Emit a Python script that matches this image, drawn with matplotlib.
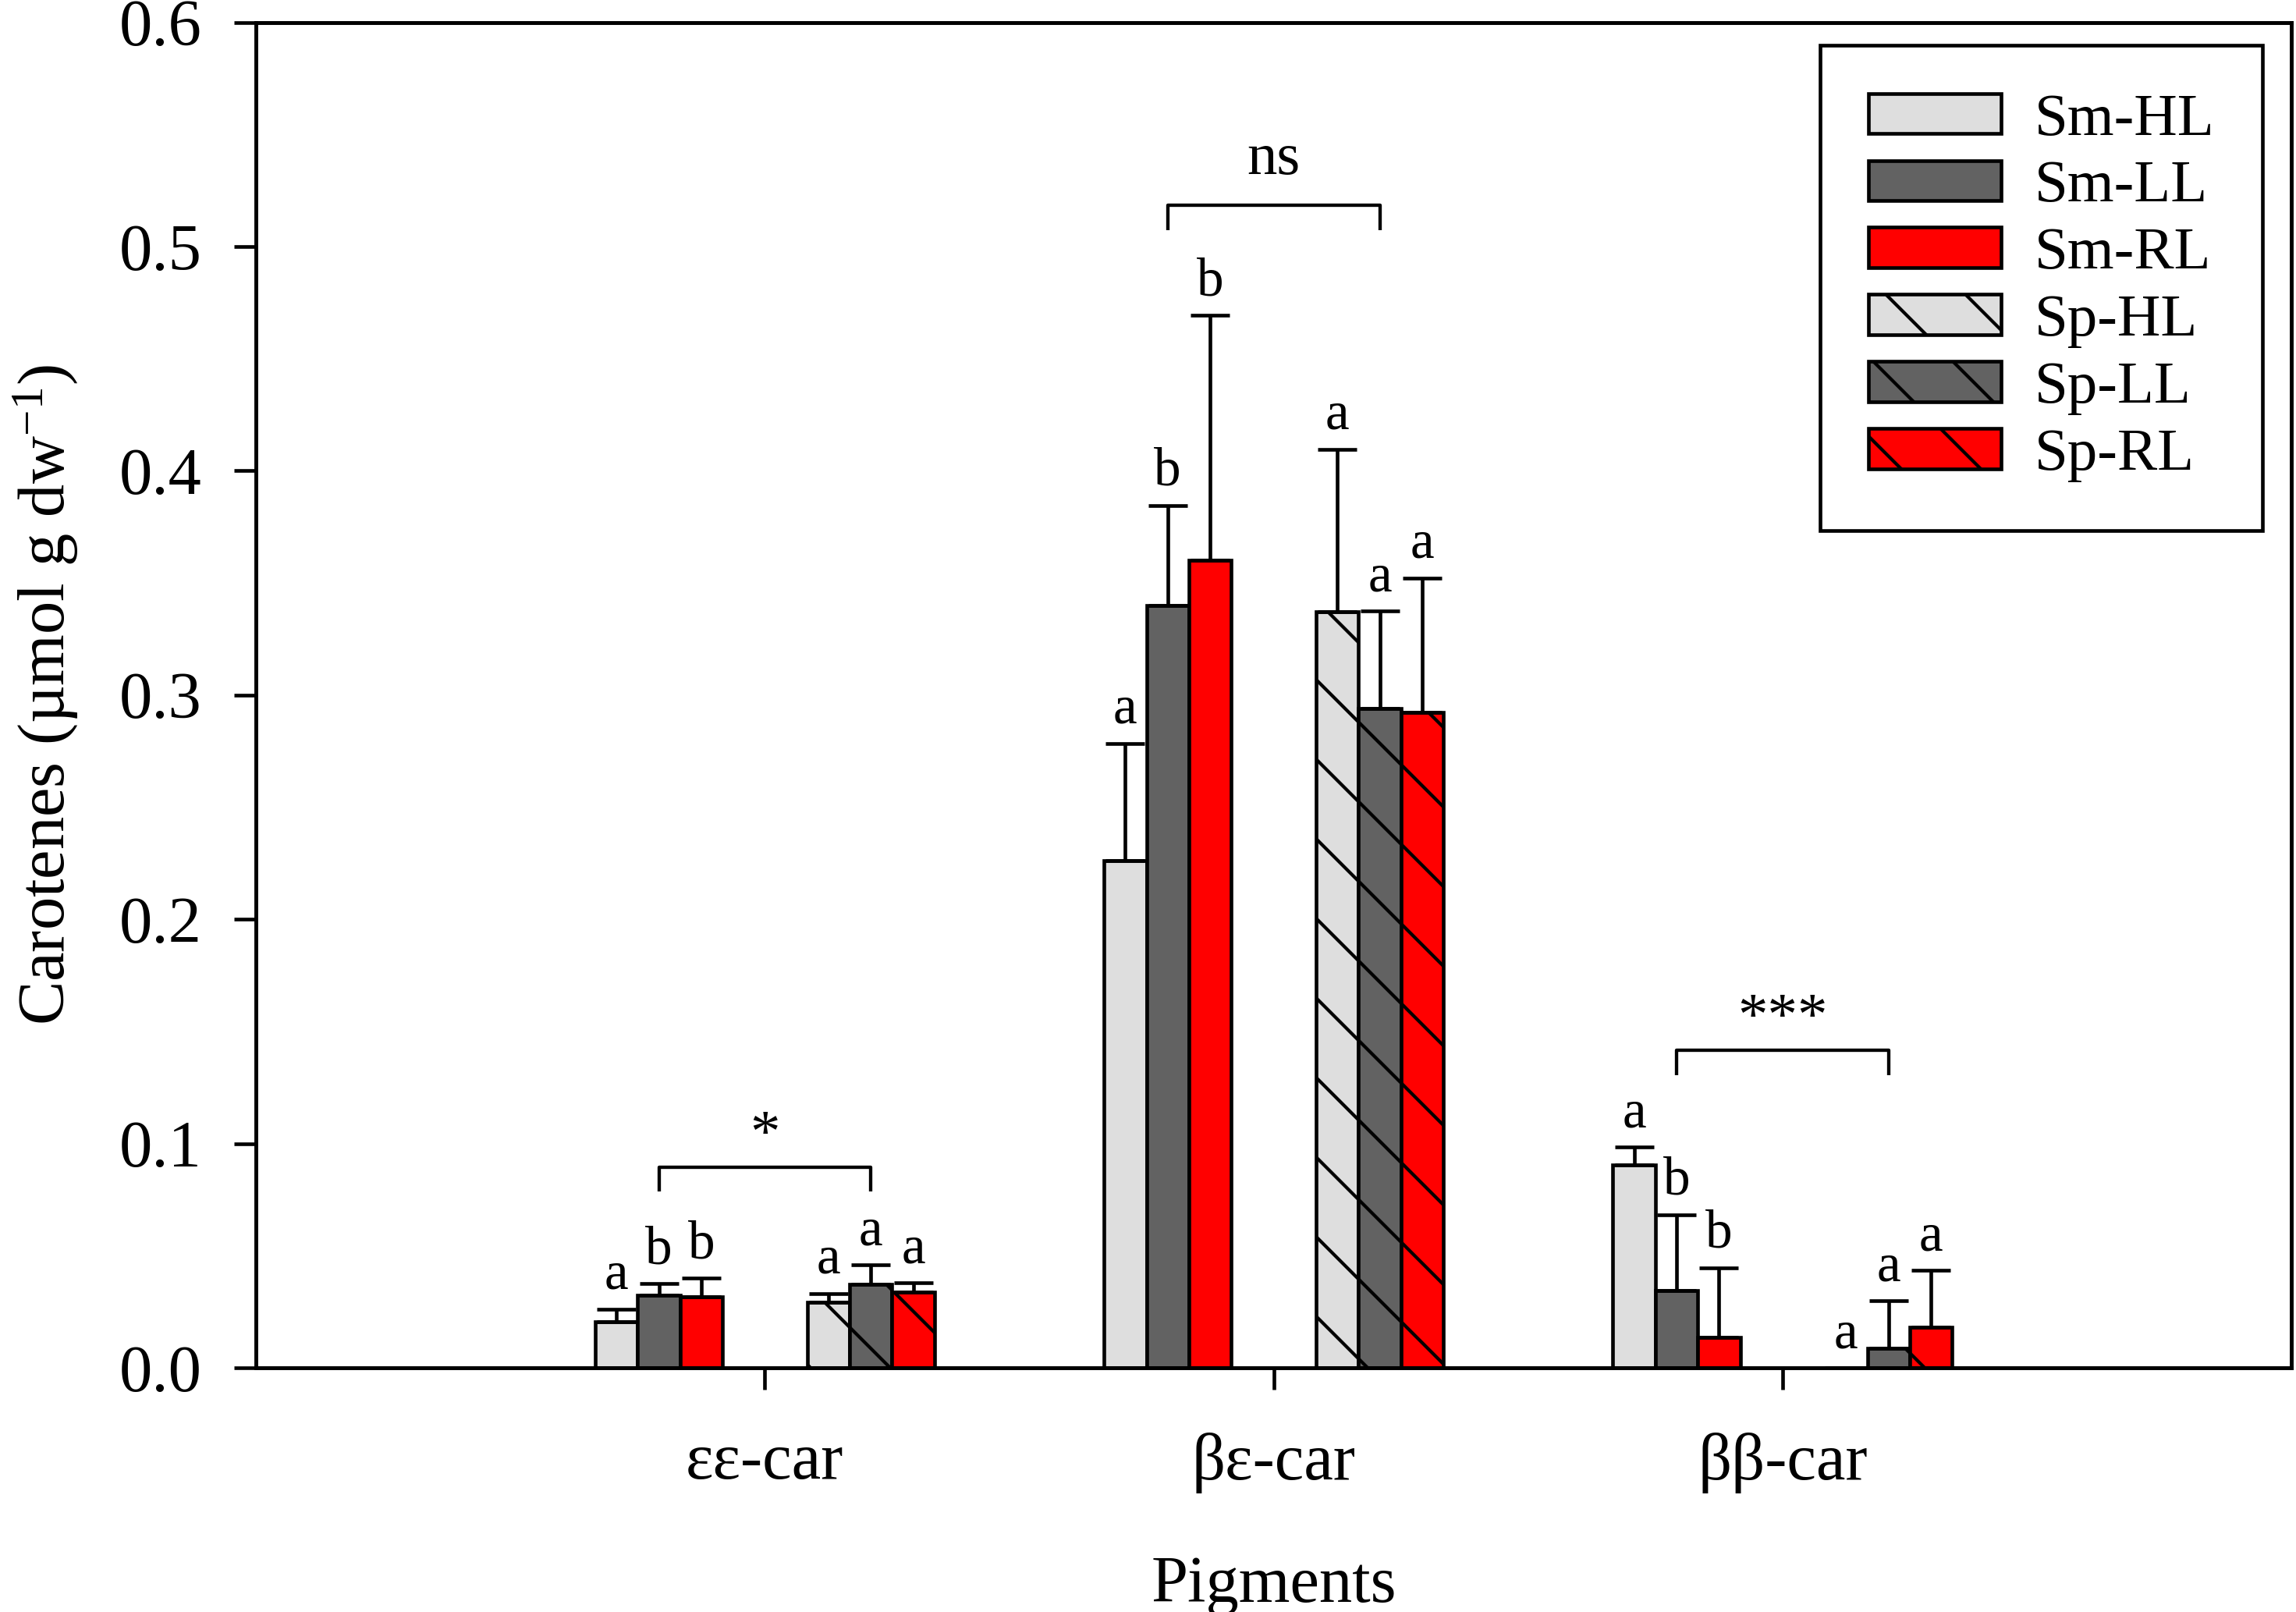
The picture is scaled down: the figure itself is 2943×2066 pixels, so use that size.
"""
Carotene content per pigment: Sm vs Sp under HL / LL / RL light.
Grouped bars with upper SD error bars, letters and significance brackets.
"""

import numpy as np
import matplotlib
matplotlib.use('Agg')
from matplotlib import pyplot as plt

plt.rcParams['font.family'] = ['Liberation Serif', 'DejaVu Serif']
plt.rcParams['mathtext.default'] = 'regular'
plt.rcParams['hatch.linewidth'] = 1.0

pigments = ['εε-car', 'βε-car', 'ββ-car']
series = ['Sm-HL', 'Sm-LL', 'Sm-RL', 'Sp-HL', 'Sp-LL', 'Sp-RL']

# means, in pigment order (εε, βε, ββ)
sm_hl = [0.0205, 0.2263, 0.0906]
sm_ll = [0.0325, 0.3398, 0.0346]
sm_rl = [0.0318, 0.3600, 0.0136]
sp_hl = [0.0294, 0.3373, 0.0]
sp_ll = [0.0373, 0.2940, 0.0088]
sp_rl = [0.0336, 0.2922, 0.0180]

# upper SD
sm_hl_sd = [0.0057, 0.0522, 0.0079]
sm_ll_sd = [0.0050, 0.0448, 0.0337]
sm_rl_sd = [0.0082, 0.1094, 0.0310]
sp_hl_sd = [0.0038, 0.0724, 0.0]
sp_ll_sd = [0.0085, 0.0435, 0.0210]
sp_rl_sd = [0.0042, 0.0601, 0.0254]

# letters over the bars
sm_hl_let = ['a', 'a', 'a']
sm_ll_let = ['b', 'b', 'b']
sm_rl_let = ['b', 'b', 'b']
sp_hl_let = ['a', 'a', 'a']
sp_ll_let = ['a', 'a', 'a']
sp_rl_let = ['a', 'a', 'a']

# Sm vs Sp test per pigment
sig_marks = ['*', 'ns', '***']
bracket_h = [0.0895, 0.5184, 0.1416]

means = [sm_hl, sm_ll, sm_rl, sp_hl, sp_ll, sp_rl]
sds = [sm_hl_sd, sm_ll_sd, sm_rl_sd, sp_hl_sd, sp_ll_sd, sp_rl_sd]
letters = [sm_hl_let, sm_ll_let, sm_rl_let, sp_hl_let, sp_ll_let, sp_rl_let]

colors = ['#dedede', '#626262', '#ff0000'] * 2
hatches = [None, None, None, '\\', '\\', '\\']
slots = [-3.5, -2.5, -1.5, 1.5, 2.5, 3.5]

# dpi chosen so the single '\' hatch gets the same spacing as the original
DPI = 306
fig = plt.figure(figsize=(2943 / DPI, 2066 / DPI), dpi=DPI)
ax = fig.add_axes([0.1115, 0.1515, 0.8865, 0.8346])

x = np.arange(1, len(pigments) + 1)
w = 1 / 12

for i, name in enumerate(series):
    xs = x + slots[i] * w
    m = np.array(means[i])
    sd = np.array(sds[i])
    ax.bar(xs, m, width=w, color=colors[i], edgecolor='black',
           linewidth=1.09, hatch=hatches[i], label=name, zorder=2)
    keep = sd > 0
    ax.errorbar(xs[keep], m[keep], yerr=[np.zeros(keep.sum()), sd[keep]],
                fmt='none', ecolor='black', elinewidth=1.09,
                capsize=5.95, capthick=1.09, zorder=3)
    for xi, top, lab in zip(xs, m + sd, letters[i]):
        ax.text(xi, top + 0.009, lab, ha='center', va='baseline', fontsize=16.25)

# brackets between Sm-LL and Sp-LL
mark_off = {'*': 0.0072, 'ns': 0.014, '***': 0.0072}
for xc, h, mark in zip(x, bracket_h, sig_marks):
    x0, x1 = xc - 2.5 * w, xc + 2.5 * w
    ax.plot([x0, x0, x1, x1], [h - 0.011, h, h, h - 0.011],
            color='black', lw=1.02, solid_capstyle='butt')
    ax.text(xc, h + mark_off[mark], mark, ha='center', va='baseline',
            fontsize=18.1)

ax.set_xlim(0, 4)
ax.set_ylim(0, 0.6)
ax.set_yticks(np.arange(0, 0.61, 0.1))
ax.set_yticklabels([f'{v:.1f}' for v in np.arange(0, 0.61, 0.1)])
ax.set_xticks(x, pigments)
ax.tick_params(axis='both', direction='out', length=6.5, width=1.09,
               labelsize=19.9, top=False, right=False)
ax.tick_params(axis='x', pad=13.06)
ax.tick_params(axis='y', pad=9.87)
for sp in ax.spines.values():
    sp.set_linewidth(1.16)

ax.set_ylabel('Carotenes (µmol g dw$^{-1}$)', fontsize=19.9, labelpad=12.0)
ax.set_xlabel('Pigments', fontsize=19.9, labelpad=18.9)

leg = ax.legend(loc='upper right', bbox_to_anchor=(2900 / 2943, 1 - 58 / 2066),
                bbox_transform=fig.transFigure, borderaxespad=0,
                fontsize=18.1, fancybox=False, edgecolor='black',
                framealpha=1, handlelength=2.22, handleheight=0.66,
                handletextpad=0.55, labelspacing=0.22, borderpad=0.8)
leg.get_frame().set_linewidth(1.09)

fig.savefig('out.png', dpi=DPI)
